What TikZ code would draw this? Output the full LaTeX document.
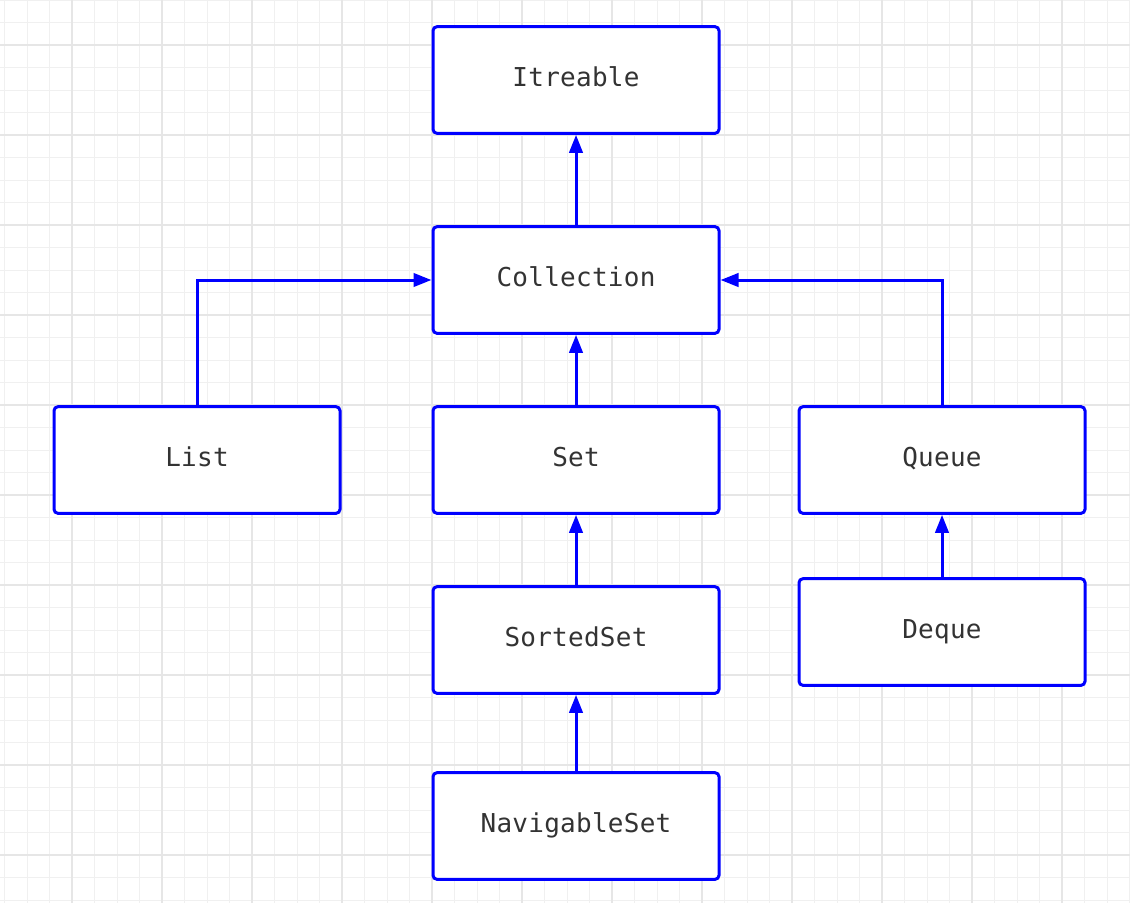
\documentclass[tikz,border=0pt]{standalone}
\usepackage{fontspec}
\newfontfamily\boxfont[LetterSpace=1]{DejaVu Sans Mono}
\usetikzlibrary{arrows.meta}
\definecolor{gridminor}{HTML}{F0F0F0}
\definecolor{gridmajor}{HTML}{E6E6E6}
\definecolor{boxblue}{HTML}{0000FF}
\definecolor{txt}{HTML}{333333}
\tikzset{
  classbox/.style={draw=boxblue, line width=2.25pt, rounded corners=3pt, fill=white,
    minimum width=214.5pt, minimum height=80pt, inner sep=0pt,
    text height=10pt, text depth=0pt, font=\boxfont\fontsize{19.5pt}{22pt}\selectfont, text=txt},
  inherit/.style={draw=boxblue, line width=2.25pt, -{Triangle[length=13.5pt,width=10pt]}},
}
\begin{document}
\begin{tikzpicture}[x=0.75pt,y=-0.75pt]
\useasboundingbox (0,0) rectangle (1130,903);
\fill[white] (0,0) rectangle (1130,903);
% grid
\foreach \x in {4.5,27,...,1130} \draw[gridminor, line width=0.75pt] (\x,0) -- (\x,903);
\foreach \y in {0,22.5,...,903} \draw[gridminor, line width=0.75pt] (0,\y) -- (1130,\y);
\foreach \x in {72,162,...,1130} \draw[gridmajor, line width=0.9pt] (\x,0) -- (\x,903);
\foreach \y in {45,135,...,903} \draw[gridmajor, line width=0.9pt] (0,\y) -- (1130,\y);
% boxes
\node[classbox] (it)   at (576,80)  {Itreable};
\node[classbox] (col)  at (576,280) {Collection};
\node[classbox] (list) at (197,460) {List};
\node[classbox] (set)  at (576,460) {Set};
\node[classbox] (que)  at (942,460) {Queue};
\node[classbox] (sset) at (576,640) {SortedSet};
\node[classbox] (deq)  at (942,632) {Deque};
\node[classbox] (nset) at (576,826) {NavigableSet};
% connectors
\draw[inherit] (col.north) -- (it.south);
\draw[inherit] (list.north) |- (col.west);
\draw[inherit] (que.north) |- (col.east);
\draw[inherit] (set.north) -- (col.south);
\draw[inherit] (sset.north) -- (set.south);
\draw[inherit] (nset.north) -- (sset.south);
\draw[inherit] (deq.north) -- (que.south);
\end{tikzpicture}
\end{document}
